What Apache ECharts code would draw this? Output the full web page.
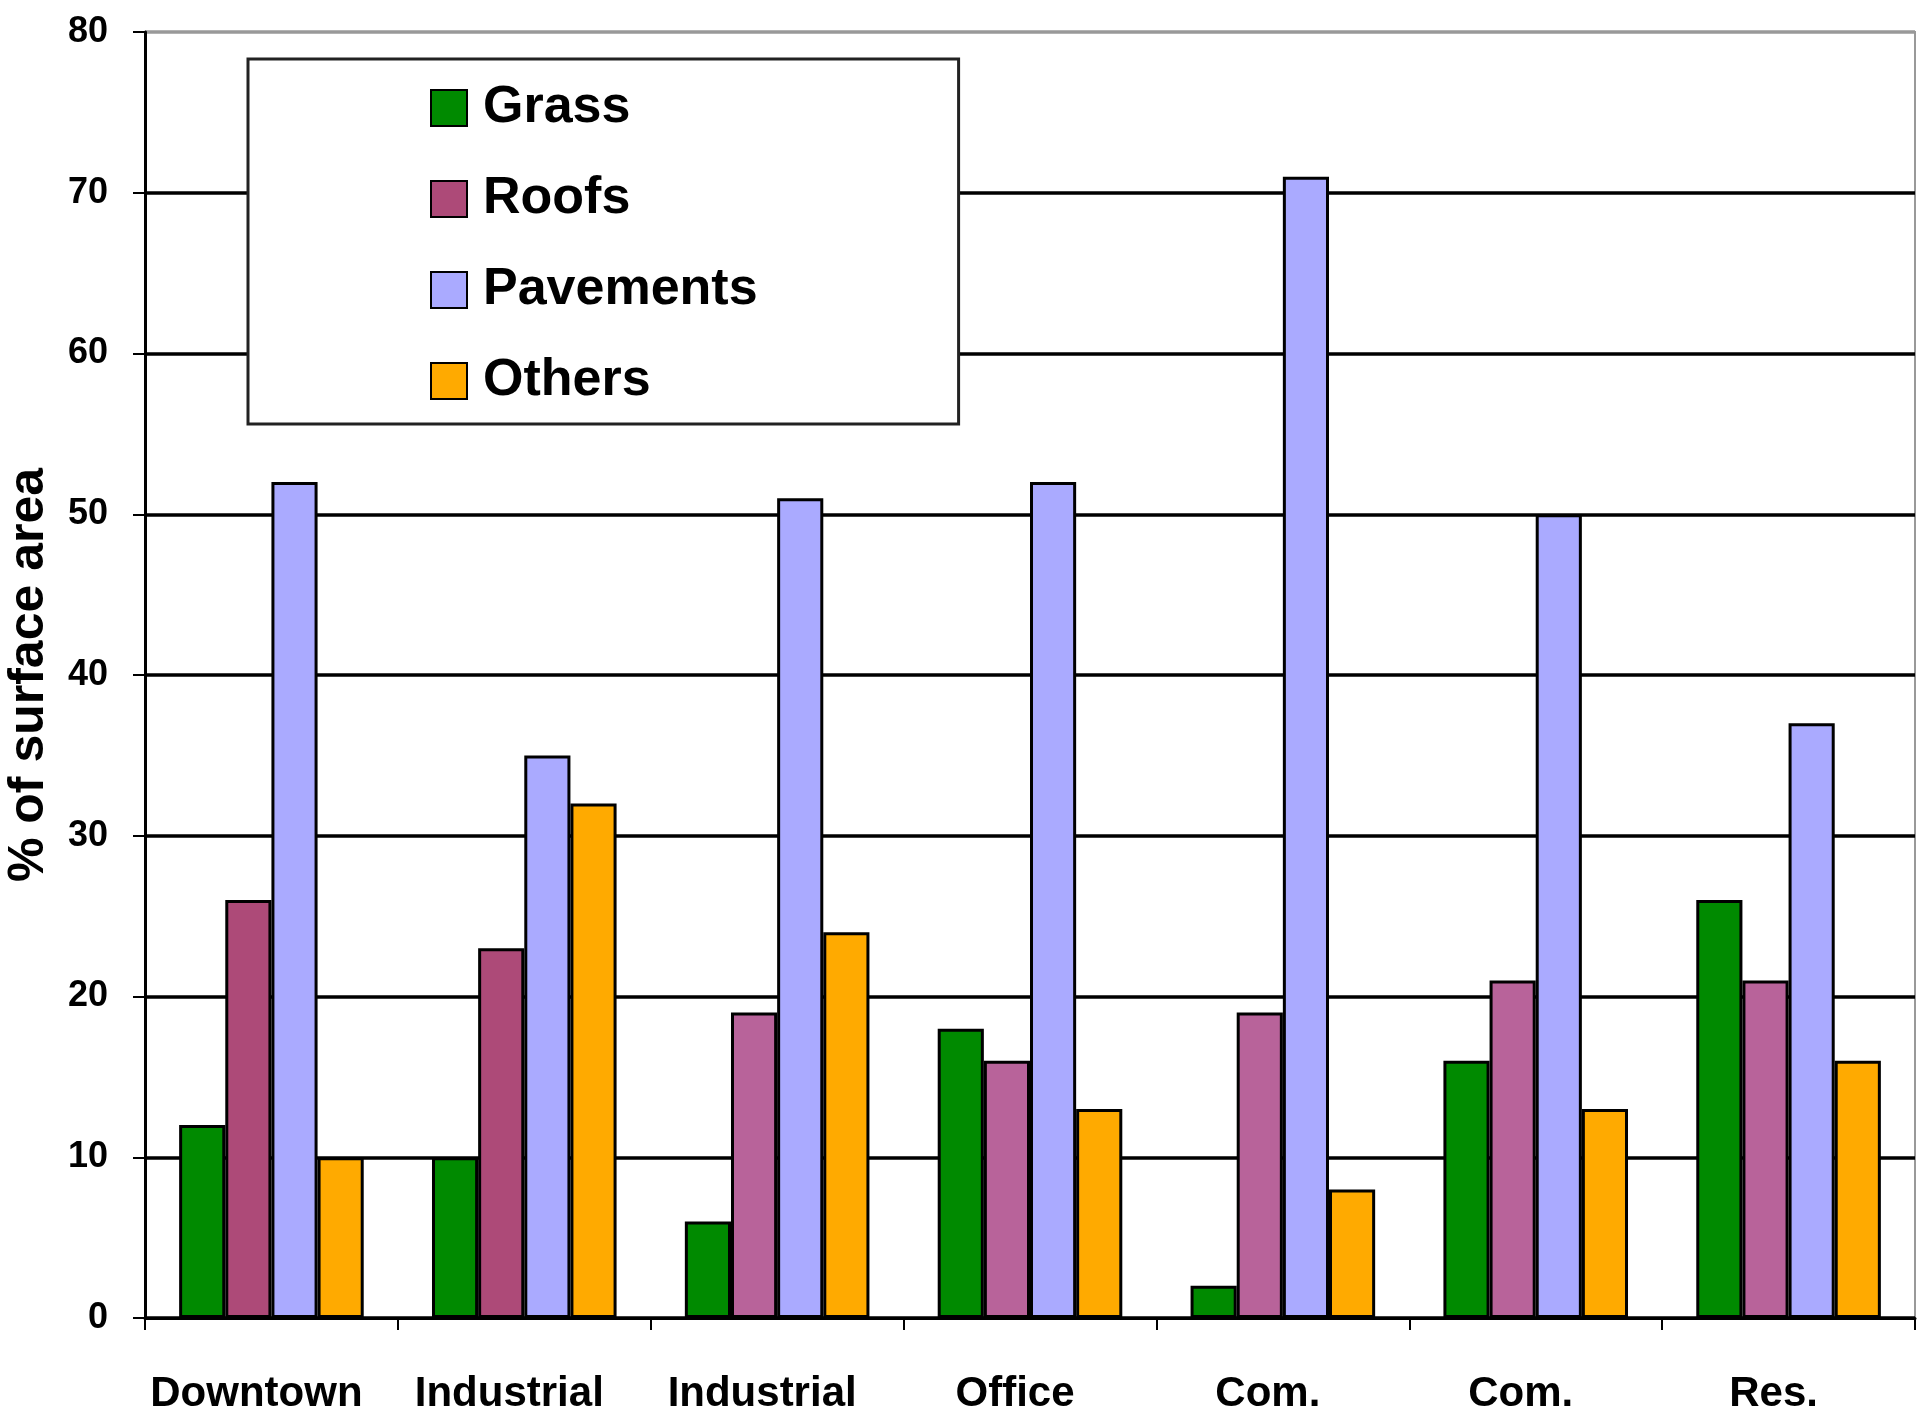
<!DOCTYPE html>
<html>
<head>
<meta charset="utf-8">
<script src="https://cdn.jsdelivr.net/npm/echarts@6/dist/echarts.min.js"></script>
<style>html,body{margin:0;padding:0;background:#fff;}#c{width:1929px;height:1419px;}</style>
</head>
<body>
<div id="c"></div>
<script>
const categories = ['Downtown', 'Industrial', 'Industrial', 'Office', 'Com.', 'Com.', 'Res.'];
const grass = [12, 10, 6, 18, 2, 16, 26];
const roofs = [26, 23, 19, 16, 19, 21, 21];
const pavements = [52, 35, 51, 52, 71, 50, 37];
const others = [10, 32, 24, 13, 8, 13, 16];
const yTicks = [0, 10, 20, 30, 40, 50, 60, 70, 80];

const FONT = '"Liberation Sans", Arial, sans-serif';
const chart = echarts.init(document.getElementById('c'));
const border = {borderColor: '#000', borderWidth: 3};
const roofData = roofs.map((v, i) => i >= 2
  ? {value: v, itemStyle: {color: '#B8639A'}}
  : v);

chart.setOption({
  animation: false,
  backgroundColor: '#fff',
  grid: {left: 145, right: 14, top: 32, bottom: 101, outerBoundsMode: 'none', containLabel: false,
    show: true, borderColor: '#999', borderWidth: 2, backgroundColor: 'transparent'},
  legend: {
    orient: 'vertical',
    left: 248, top: 59,
    backgroundColor: '#fff',
    borderColor: '#222',
    borderWidth: 3,
    padding: [19, 201, 13, 182],
    itemWidth: 36, itemHeight: 36, itemGap: 31,
    icon: 'rect',
    textStyle: {fontFamily: FONT, fontWeight: 'bold', fontSize: 52, lineHeight: 60, color: '#000', padding: [0, 0, 0, 11]},
    data: ['Grass', 'Roofs', 'Pavements', 'Others']
  },
  xAxis: {
    type: 'category',
    data: categories,
    axisLine: {lineStyle: {color: '#000', width: 3}},
    axisTick: {show: true, length: 12, lineStyle: {color: '#000', width: 2}},
    axisLabel: {fontFamily: FONT, fontWeight: 'bold', fontSize: 42, color: '#000', margin: 55, padding: [0, 30, 0, 0], interval: 0}
  },
  yAxis: {
    type: 'value',
    min: 0, max: 80, interval: 10,
    name: '% of surface area',
    nameLocation: 'middle',
    nameGap: 91,
    nameTextStyle: {fontFamily: FONT, fontWeight: 'bold', fontSize: 50, color: '#000'},
    axisLine: {show: true, lineStyle: {color: '#000', width: 3}},
    axisTick: {show: true, length: 12, lineStyle: {color: '#000', width: 2}},
    axisLabel: {fontFamily: FONT, fontWeight: 'bold', fontSize: 36, color: '#000', margin: 37,
      formatter: v => yTicks.includes(v) ? String(v) : ''},
    splitLine: {show: true, lineStyle: {color: ['#000', '#000', '#000', '#000', '#000', '#000', '#000', '#000', '#999'], width: 3.5}}
  },
  series: [
    {name: 'Grass', type: 'bar', data: grass, barGap: '0%', barCategoryGap: '27%', itemStyle: Object.assign({color: '#008A00'}, border)},
    {name: 'Roofs', type: 'bar', data: roofData, barGap: '0%', barCategoryGap: '27%', itemStyle: Object.assign({color: '#AD4A78'}, border)},
    {name: 'Pavements', type: 'bar', data: pavements, barGap: '0%', barCategoryGap: '27%', itemStyle: Object.assign({color: '#AAAAFF'}, border)},
    {name: 'Others', type: 'bar', data: others, barGap: '0%', barCategoryGap: '27%', itemStyle: Object.assign({color: '#FFAA00'}, border)}
  ]
});
</script>
</body>
</html>
